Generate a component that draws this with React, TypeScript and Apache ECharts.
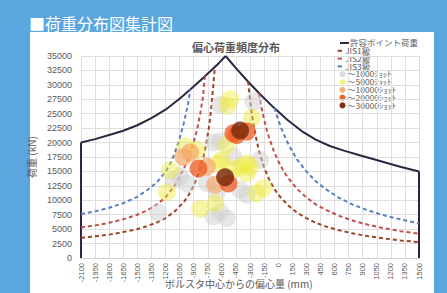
import React, { useEffect, useRef } from "react";
import * as echarts from "echarts";

const pageTitle = "■荷重分布図集計図";
const chartTitle = "偏心荷重頻度分布";
const xAxisName = "ボルスタ中心からの偏心量 (mm)";
const yAxisName = "荷重 (kN)";

const xMin = -2100;
const xMax = 1500;
const xStep = 150;
const yMin = 0;
const yMax = 35000;
const yStep = 2500;

const allowName = "許容ポイント荷重";
const jisNames = ["JIS1級", "JIS2級", "JIS3級"];
const shotNames = ["～1000ｼｮｯﾄ", "～5000ｼｮｯﾄ", "～10000ｼｮｯﾄ", "～20000ｼｮｯﾄ", "～30000ｼｮｯﾄ"];

const allowEdgeL = [[-2100, 0], [-2100, 20000]];
const allowLeft = [
  [-2100, 20000], [-1950, 20600], [-1800, 21300], [-1650, 22050], [-1500, 23000], [-1350, 24250], [-1200, 25700],
  [-1050, 27600], [-900, 29700], [-800, 31200], [-700, 32700], [-630, 33800], [-560, 35000],
];
const allowRight = [
  [-560, 35000], [-450, 32900], [-334, 30800], [-200, 28500], [-50, 26100], [100, 23900], [250, 22000],
  [400, 20500], [550, 19400], [700, 18600], [850, 17900], [1000, 17200], [1150, 16500], [1300, 15800], [1500, 15000],
];
const allowEdgeR = [[1500, 15000], [1500, 0]];

const jis1Left = [
  [-2100, 3500], [-1950, 3750], [-1800, 4050], [-1650, 4500], [-1500, 5000], [-1400, 5500], [-1300, 6100],
  [-1200, 6900], [-1100, 8100], [-1000, 9800], [-950, 11000], [-900, 12500], [-850, 14500], [-800, 17200],
  [-760, 20300], [-730, 23500], [-710, 26500], [-690, 30000], [-675, 33000],
];
const jis1Right = [
  [-320, 30600], [-300, 27500], [-280, 25000], [-260, 22900], [-230, 20400], [-200, 18300], [-150, 15700],
  [-100, 13750], [-50, 12200], [0, 11000], [100, 9200], [200, 7850], [300, 6900], [400, 6100], [500, 5500],
  [650, 4800], [800, 4250], [950, 3800], [1100, 3450], [1300, 3050], [1500, 2750],
];
const jis2Left = [
  [-2100, 5300], [-1950, 5650], [-1800, 6100], [-1650, 6700], [-1500, 7500], [-1400, 8200], [-1300, 9200],
  [-1200, 10500], [-1100, 12600], [-1000, 15600], [-950, 17600], [-900, 20000], [-860, 22500], [-830, 25000],
  [-800, 28000], [-790, 30000], [-780, 31500],
];
const jis2Right = [
  [-205, 28500], [-180, 26250], [-150, 24000], [-120, 22100], [-100, 21000], [-50, 18700], [0, 16800],
  [50, 15300], [100, 14000], [200, 12000], [300, 10500], [400, 9300], [500, 8400], [650, 7300], [800, 6450],
  [950, 5800], [1100, 5250], [1300, 4650], [1500, 4200],
];
const jis3Left = [
  [-2100, 7600], [-1950, 8100], [-1800, 8700], [-1650, 9500], [-1500, 10600], [-1400, 11700], [-1300, 13000],
  [-1200, 14900], [-1150, 16300], [-1100, 18200], [-1050, 20700], [-1000, 23700], [-960, 26700], [-935, 29200],
];
const jis3Right = [
  [-40, 26000], [0, 24000], [50, 21800], [100, 20000], [150, 18500], [200, 17100], [300, 15000], [400, 13300],
  [500, 12000], [650, 10400], [800, 9200], [950, 8300], [1100, 7500], [1300, 6700], [1500, 6000],
];

const shots1000 = [
  [-264, 27100], [-618, 26500], [-689, 20000], [-618, 20200], [-477, 17600], [-193, 17000], [-1115, 13500],
  [-1044, 14100], [-972, 12900], [-405, 11800], [-653, 11200], [-334, 11000], [-1280, 7900], [-618, 8000],
  [-689, 7200], [-547, 6900], [-760, 13000],
];
const shots5000 = [
  [-510, 27500], [-540, 26400], [-281, 24300], [-547, 19600], [-866, 18700], [-990, 19300], [-636, 16400],
  [-405, 15800], [-334, 16400], [-477, 15300], [-299, 15800], [-1150, 15200], [-1185, 11400], [-229, 11200],
  [-157, 12100], [-334, 14700], [-831, 8500], [-671, 9500], [-600, 17000],
];
const shots10000 = [[-1009, 17500], [-937, 18300], [-760, 15800], [-671, 12700]];
const shots20000 = [[-849, 15500], [-441, 21300], [-334, 21900], [-477, 21600], [-530, 12900]];
const shots30000 = [[-405, 22100], [-565, 14000]];

const allowColor = "#2d2640";
const jisColors = ["#9c4426", "#c0504d", "#5b80c0"];
const shotColors = ["#cfcfcf", "#eeea3a", "#f3a86a", "#ee5a22", "#7d2e0e"];
const shotOpacity = [0.5, 0.45, 0.7, 0.75, 0.85];

export default function App() {
  const ref = useRef<HTMLDivElement>(null);
  useEffect(() => {
    if (!ref.current) return;
    const chart = echarts.init(ref.current, undefined, { renderer: "svg" });
    const font = "'Liberation Sans', 'Noto Sans CJK JP', sans-serif";
    const jp = "'Noto Sans CJK JP', sans-serif";
    const gray = "#595959";

    const lineS = (name: string, data: number[][], color: string, dashed: boolean) => ({
      type: "line",
      name,
      data,
      symbol: "none",
      smooth: false,
      lineStyle: { color, width: 2, type: dashed ? [4, 3] : "solid", cap: "butt", join: "round" },
      itemStyle: { color },
      z: 3,
    });

    const shotData = [shots1000, shots5000, shots10000, shots20000, shots30000];

    const series: any[] = [
      lineS(allowName, allowEdgeL, allowColor, false),
      lineS(allowName, allowLeft, allowColor, false),
      lineS(allowName, allowRight, allowColor, false),
      lineS(allowName, allowEdgeR, allowColor, false),
      lineS(jisNames[0], jis1Left, jisColors[0], true),
      lineS(jisNames[0], jis1Right, jisColors[0], true),
      lineS(jisNames[1], jis2Left, jisColors[1], true),
      lineS(jisNames[1], jis2Right, jisColors[1], true),
      lineS(jisNames[2], jis3Left, jisColors[2], true),
      lineS(jisNames[2], jis3Right, jisColors[2], true),
      ...shotNames.map((n, i) => ({
        type: "scatter",
        name: n,
        data: shotData[i],
        symbol: "circle",
        symbolSize: 18,
        itemStyle: { color: shotColors[i], opacity: shotOpacity[i] },
        z: 4,
      })),
    ];

    // hand-built legend (icons + texts)
    const rowY0 = 43;
    const rowStep = 7.8;
    const legendEls: any[] = [];
    const legendText = (label: string, x: number, y: number) => ({
      type: "text",
      x,
      y,
      scaleX: 1.12,
      style: { text: label, fill: gray, fontSize: 7.6, fontFamily: jp, verticalAlign: "middle", align: "left" },
    });
    legendEls.push({ type: "line", shape: { x1: 340, y1: rowY0, x2: 349, y2: rowY0 }, style: { stroke: allowColor, lineWidth: 2 } });
    legendEls.push(legendText(allowName, 350, rowY0));
    jisNames.forEach((n, i) => {
      const y = rowY0 + rowStep * (i + 1);
      legendEls.push({ type: "line", shape: { x1: 337.5, y1: y, x2: 342, y2: y }, style: { stroke: jisColors[i], lineWidth: 2 } });
      legendEls.push(legendText(n, 345, y));
    });
    shotNames.forEach((n, i) => {
      const y = rowY0 + rowStep * (i + 4);
      legendEls.push({ type: "circle", shape: { cx: 342.5, cy: y, r: 3 }, style: { fill: shotColors[i], opacity: Math.min(1, shotOpacity[i] + 0.2) } });
      legendEls.push(legendText(n, 347, y));
    });

    chart.setOption({
      animation: false,
      textStyle: { fontFamily: font },
      title: [
        {
          text: pageTitle,
          left: 24,
          top: 10,
          textStyle: { color: "#ffffff", fontSize: 16, fontWeight: "normal", fontFamily: jp },
        },
        {
          text: chartTitle,
          left: 231,
          top: 36,
          textAlign: "center",
          textStyle: { color: gray, fontSize: 11, fontWeight: "bold", fontFamily: jp },
        },
      ],
      legend: { show: false, data: [allowName, ...jisNames, ...shotNames] },
      grid: { left: 81, top: 56, width: 338, height: 202, outerBoundsMode: "none", containLabel: false },
      xAxis: {
        type: "value",
        min: xMin,
        max: xMax,
        interval: xStep,
        axisLine: { show: true, lineStyle: { color: "#d0d0d0" } },
        axisTick: { show: false },
        splitLine: { show: true, lineStyle: { color: "#dedede", width: 1 } },
        axisLabel: { rotate: 90, fontSize: 7.5, color: gray, margin: 5, formatter: (v: number) => String(v) },
      },
      yAxis: {
        type: "value",
        min: yMin,
        max: yMax,
        interval: yStep,
        name: yAxisName,
        nameLocation: "middle",
        nameRotate: 90,
        nameGap: 37,
        nameTextStyle: { color: gray, fontSize: 10, fontFamily: jp },
        axisLine: { show: false },
        axisTick: { show: false },
        splitLine: { show: true, lineStyle: { color: "#dedede", width: 1 } },
        axisLabel: { fontSize: 9, color: gray, margin: 9, formatter: (v: number) => String(v) },
      },
      graphic: [
        {
          type: "text",
          left: 165,
          top: 278,
          style: { text: xAxisName, fill: gray, fontSize: 10, fontFamily: jp },
        },
        ...legendEls,
      ],
      series,
    });
    return () => chart.dispose();
  }, []);

  return (
    <div style={{ position: "absolute", left: 0, top: 0, width: 447, height: 293, background: "#5ba6de", overflow: "hidden" }}>
      <div style={{ position: "absolute", left: 30, top: 32, width: 404, height: 261, background: "#ffffff" }} />
      <div ref={ref} style={{ position: "absolute", left: 0, top: 0, width: 447, height: 293 }} />
    </div>
  );
}
